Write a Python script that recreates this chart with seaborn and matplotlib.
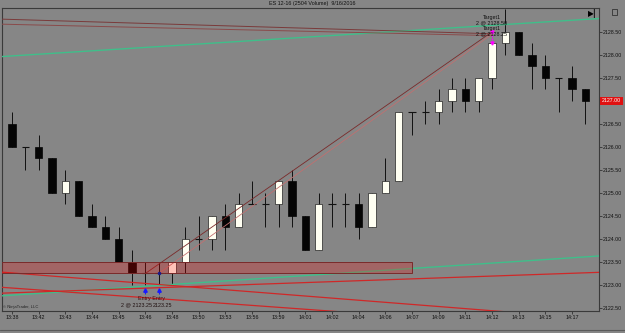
import numpy as np
import pandas as pd
import matplotlib
matplotlib.use("Agg")
import matplotlib.pyplot as plt
import matplotlib.transforms as mtransforms
from matplotlib.patches import Rectangle
import seaborn as sns

# ---------------- data ----------------
opens = [2126.50, 2126.00, 2126.00, 2125.75, 2125.00, 2125.25, 2124.50, 2124.25, 2124.00, 2123.50,
         2123.25, 2123.25, 2123.25, 2123.50, 2124.00, 2124.00, 2124.50, 2124.25, 2124.75, 2124.75,
         2124.75, 2125.25, 2124.50, 2123.75, 2124.75, 2124.75, 2124.75, 2124.25, 2125.00, 2125.25,
         2126.75, 2126.75, 2126.75, 2127.00, 2127.25, 2127.00, 2127.50, 2128.25, 2128.50, 2128.00,
         2127.75, 2127.50, 2127.50, 2127.25]
highs = [2126.75, 2126.00, 2126.25, 2125.75, 2125.50, 2125.25, 2124.75, 2124.50, 2124.25, 2123.75,
         2123.50, 2123.50, 2123.50, 2124.25, 2124.50, 2124.50, 2124.75, 2125.00, 2125.25, 2125.00,
         2125.25, 2125.50, 2124.50, 2125.00, 2125.00, 2125.00, 2125.00, 2125.00, 2125.75, 2126.75,
         2126.75, 2127.00, 2127.25, 2127.50, 2127.50, 2127.50, 2128.25, 2129.00, 2128.50, 2128.25,
         2128.00, 2127.50, 2127.75, 2127.25]
lows = [2126.00, 2125.50, 2125.50, 2125.00, 2124.75, 2124.50, 2124.25, 2124.00, 2123.50, 2123.00,
        2123.00, 2123.00, 2123.00, 2123.25, 2123.75, 2123.75, 2123.75, 2124.25, 2124.75, 2124.25,
        2124.25, 2124.25, 2123.75, 2123.75, 2124.25, 2124.25, 2124.00, 2124.25, 2125.00, 2125.25,
        2126.25, 2126.50, 2126.50, 2126.75, 2126.75, 2126.75, 2127.25, 2128.00, 2128.00, 2127.25,
        2127.25, 2126.75, 2127.00, 2126.50]
closes = [2126.00, 2126.00, 2125.75, 2125.00, 2125.25, 2124.50, 2124.25, 2124.00, 2123.50, 2123.25,
          2123.25, 2123.25, 2123.50, 2124.00, 2124.00, 2124.50, 2124.25, 2124.75, 2124.75, 2124.75,
          2125.25, 2124.50, 2123.75, 2124.75, 2124.75, 2124.75, 2124.25, 2125.00, 2125.25, 2126.75,
          2126.75, 2126.75, 2127.00, 2127.25, 2127.00, 2127.50, 2128.25, 2128.50, 2128.00, 2127.75,
          2127.50, 2127.50, 2127.25, 2127.00]

time_labels = ["13:38", "13:42", "13:43", "13:44", "13:45", "13:46", "13:48", "13:50", "13:53", "13:56",
               "13:59", "14:01", "14:02", "14:04", "14:06", "14:07", "14:09", "14:11", "14:12", "14:13",
               "14:15", "14:17"]
price_ticks = [2122.50, 2123.00, 2123.50, 2124.00, 2124.50, 2125.00, 2125.50, 2126.00,
               2126.50, 2127.00, 2127.50, 2128.00, 2128.50]
last_price = 2127.00

# drawing objects (bar index, price)
green_top = ([-1.0, 44.5], [2127.96, 2128.80])
green_bot = ([-1.0, 44.5], [2122.76, 2123.64])
red_rising = ([-1.0, 44.5], [2122.82, 2123.28])
red_fall1 = ([-1.0, 25.0], [2122.955, 2122.41])
red_fall2 = ([-1.0, 40.0], [2123.285, 2122.35])
brown_top1 = ([-1.0, 36.0], [2128.78, 2128.46])
brown_top2 = ([-1.0, 36.0], [2128.67, 2128.42])
exec_line1 = ([10.0, 36.0], [2123.25, 2128.50])
exec_line2 = ([11.0, 36.0], [2123.25, 2128.45])
zone_price = (2123.25, 2123.50)
zone_end = 30.0
entry_bars = [10, 11]
entry_price = 2123.25
target_bar = 36
target_prices = [2128.50, 2128.25]

# ---------------- style ----------------
BG = "#868686"
sns.set_theme(style="white", rc={"axes.facecolor": BG, "figure.facecolor": BG,
                                 "axes.edgecolor": "#3a3a3a"})
plt.rcParams["font.family"] = ["Liberation Sans", "DejaVu Sans"]

W, H = 625, 333
fig = plt.figure(figsize=(W / 100, H / 100), dpi=100)
ax = fig.add_axes([2 / W, (H - 311) / H, (599 - 2) / W, (311 - 8) / H])
ax.set_xlim(-0.75, 44.03)
ax.set_ylim(2122.435, 2129.02)

df = pd.DataFrame({"i": np.arange(len(opens)), "o": opens, "h": highs, "l": lows, "c": closes})
df["bottom"] = df[["o", "c"]].min(axis=1)
df["height"] = (df["c"] - df["o"]).abs()
body_w = 0.56

# wicks
ax.vlines(df["i"], df["l"], df["h"], color="#111111", lw=0.7, zorder=2)
up = df[df["c"] > df["o"]]
dn = df[df["c"] < df["o"]]
dj = df[df["c"] == df["o"]]
ax.bar(up["i"], up["height"], bottom=up["bottom"], width=body_w, color="#fffff2",
       edgecolor="#222222", linewidth=0.5, zorder=3)
ax.bar(dn["i"], dn["height"], bottom=dn["bottom"], width=body_w, color="#050505",
       edgecolor="#050505", linewidth=0.5, zorder=3)
ax.hlines(dj["o"], dj["i"] - body_w / 2, dj["i"] + body_w / 2, color="#111111", lw=0.8, zorder=3)

# trend lines via seaborn
def sline(pts, color, lw=0.9, z=4, ls="-"):
    sns.lineplot(x=pts[0], y=pts[1], color=color, lw=lw, ax=ax, zorder=z, linestyle=ls)

sline(green_top, "#3fbf8a", 1.0)
sline(green_bot, "#3fbf8a", 1.0)
sline(red_rising, "#d02828", 0.9)
sline(red_fall1, "#d02828", 0.9)
sline(red_fall2, "#d02828", 0.9)
sline(brown_top1, "#7a3a3a", 0.7)
sline(brown_top2, "#8a4a4a", 0.7)
sline(exec_line1, "#7a2a2a", 0.6)
sline(exec_line2, "#c07070", 0.6)

# zone rectangle (semi transparent red)
ax.add_patch(Rectangle((-2, zone_price[0]), zone_end + 2, zone_price[1] - zone_price[0],
                       facecolor=(1.0, 0.0, 0.0, 0.24), edgecolor="#7a2a2a", lw=0.7, zorder=5))

# entry markers
for b in entry_bars:
    ax.plot([b], [entry_price - 0.36], marker="^", color="#1a1aff", ms=2.5, zorder=6)
    ax.vlines(b, entry_price - 0.45, entry_price - 0.36, color="#1a1aff", lw=0.8, zorder=6)
ax.plot([entry_bars[1]], [entry_price], marker="o", color="#1a1a8a", ms=1.5, zorder=6)
fs = 3.9
mid_e = (entry_bars[0] + entry_bars[1]) / 2
ax.annotate("Entry Entry", (mid_e, entry_price - 0.45), xytext=(0, -1.0), textcoords="offset points",
            ha="center", va="top", fontsize=fs, color="#401010", zorder=7)
ax.annotate("2 @ %.2f" % entry_price, (mid_e, entry_price - 0.45), xytext=(-0.3, -6.0),
            textcoords="offset points", ha="right", va="top", fontsize=fs, color="#201010", zorder=7)
ax.annotate("%.2f" % entry_price, (mid_e, entry_price - 0.45), xytext=(0.3, -6.0),
            textcoords="offset points", ha="left", va="top", fontsize=fs, color="#201010", zorder=7)

# target markers
ax.vlines(target_bar, target_prices[1], target_prices[0], color="#ff00ff", lw=0.9,
          linestyles=(0, (1.5, 1)), zorder=6)
for p in target_prices:
    ax.plot([target_bar], [p], marker="v", color="#ff00ff", ms=2.2, zorder=6)
ax.annotate("Target1", (target_bar, target_prices[0]), xytext=(0, 10.5), textcoords="offset points",
            ha="center", va="center", fontsize=fs, color="#101010", zorder=7)
ax.annotate("2 @ %.2f" % target_prices[0], (target_bar, target_prices[0]), xytext=(0, 6.3),
            textcoords="offset points", ha="center", va="center", fontsize=fs, color="#101010", zorder=7)
ax.annotate("Target1", (target_bar, target_prices[1]), xytext=(0, 10.5), textcoords="offset points",
            ha="center", va="center", fontsize=fs, color="#101010", zorder=7)
ax.annotate("2 @ %.2f" % target_prices[1], (target_bar, target_prices[1]), xytext=(0, 6.6),
            textcoords="offset points", ha="center", va="center", fontsize=fs, color="#101010", zorder=7)

# axes / ticks
ax.set_xticks(np.arange(0, 2 * len(time_labels), 2))
ax.set_xticklabels(time_labels, fontsize=3.9, color="#111111")
ax.yaxis.tick_right()
ax.set_yticks(price_ticks)
ax.set_yticklabels(["" if p == last_price else "%.2f" % p for p in price_ticks],
                   fontsize=3.8, color="#111111")
ax.tick_params(axis="both", length=2, width=0.5, color="#222222", pad=1.0,
               bottom=True, right=True, left=False, top=False)
for s in ax.spines.values():
    s.set_linewidth(0.8)
    s.set_color("#3a3a3a")
ax.set_xlabel("")
ax.set_ylabel("")

# last price tag
trans = mtransforms.blended_transform_factory(ax.transAxes, ax.transData)
ax.text(1.005, last_price, "%.2f" % last_price, transform=trans, fontsize=3.8, color="white",
        va="center", ha="left", zorder=8, clip_on=False,
        bbox=dict(boxstyle="square,pad=0.3", fc="#e01010", ec="#e01010", lw=0))

# title and decorations
fig.text(0.5, (H - 4) / H, "ES 12-16 (2504 Volume)  9/16/2016", ha="center", va="center",
         fontsize=3.9, color="#111111")
ax.text(0.002, 0.006, "© NinjaTrader, LLC", transform=ax.transAxes, fontsize=3.0,
        color="#222222", ha="left", va="bottom")
ax.text(0.9965, 0.997, "▶|", transform=ax.transAxes, fontsize=5.5, color="black",
        ha="right", va="top", fontweight="bold", family=["DejaVu Sans"])
fig.add_artist(Rectangle((612 / W, (H - 15) / H), 5 / W, 6 / H, transform=fig.transFigure,
                         fill=False, ec="#222222", lw=0.5))
fig.add_artist(plt.Line2D([0, 1], [3 / H, 3 / H], transform=fig.transFigure, color="#5a5a5a", lw=0.8))

fig.savefig("out.png", dpi=100, facecolor=BG)
